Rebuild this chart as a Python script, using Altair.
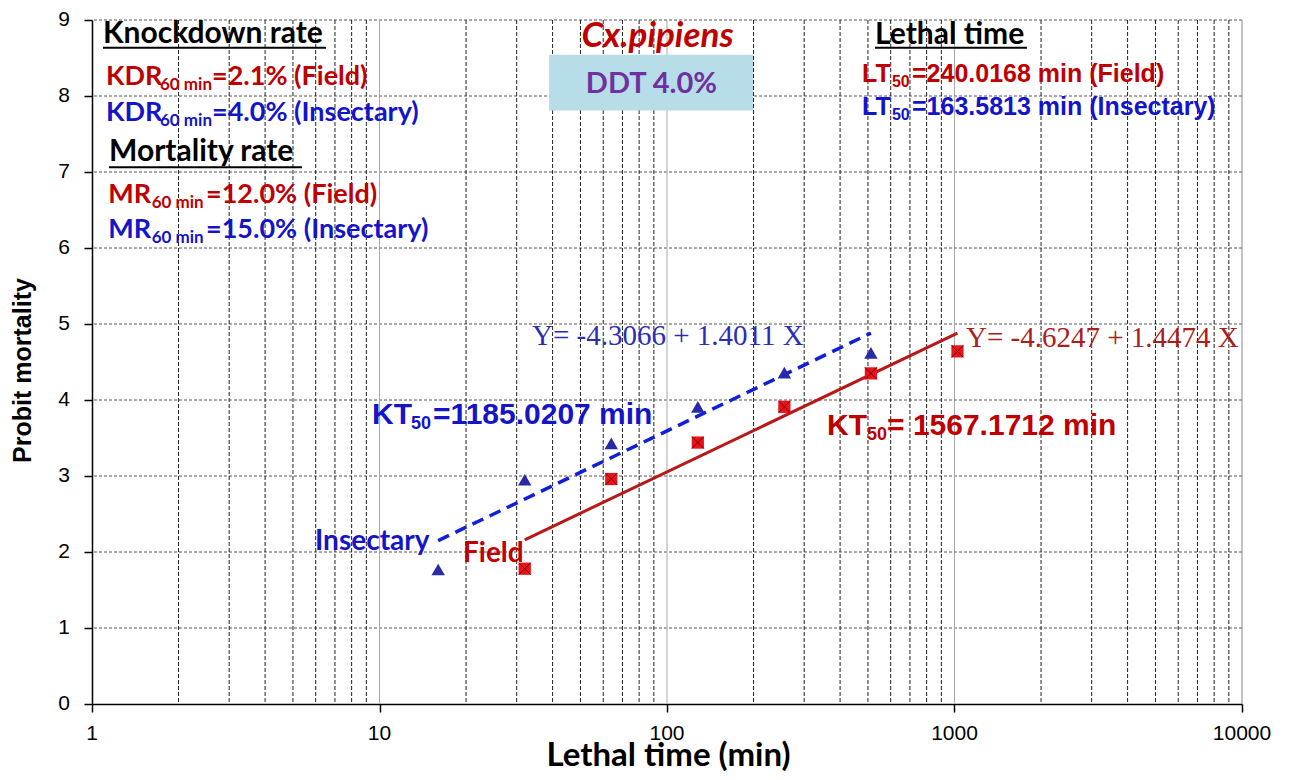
import altair as alt
import pandas as pd

# ---------------- data ----------------
time_insectary = [16, 32, 64, 128, 256, 512]
probit_insectary = [1.77, 2.95, 3.43, 3.91, 4.36, 4.62]
time_field = [32, 64, 128, 256, 512, 1024]
probit_field = [1.78, 2.96, 3.44, 3.91, 4.35, 4.64]

fit_insectary_time = [16, 512]
fit_insectary_probit = [2.15, 4.88]
fit_field_time = [32, 1024]
fit_field_probit = [2.16, 4.88]

x_tick_values = [1, 10, 100, 1000, 10000]
x_tick_labels = ["1", "10", "100", "1000", "10000"]
y_tick_values = [0, 1, 2, 3, 4, 5, 6, 7, 8, 9]
y_tick_labels = ["0", "1", "2", "3", "4", "5", "6", "7", "8", "9"]
minor_grid = [m * 10 ** d for d in range(4) for m in range(2, 10)]
major_grid = [10, 100, 1000]
h_grid = [1, 2, 3, 4, 5, 6, 7, 8, 9]

RED = "#c00000"
BLUE = "#1414c8"

# annotation texts (x, y in data units; text; colour; font size)
calibri_texts = [
    (1.092, 8.695, "Knockdown rate", "#000000", 30),
    (1.119, 8.150, "KDR", RED, 27),
    (1.724, 8.084, "60 min", RED, 17),
    (2.615, 8.150, "=2.1% (Field)", RED, 27),
    (1.119, 7.676, "KDR", BLUE, 27),
    (1.724, 7.600, "60 min", BLUE, 17),
    (2.615, 7.676, "=4.0% (Insectary)", BLUE, 27),
    (1.146, 7.142, "Mortality rate", "#000000", 30),
    (1.139, 6.593, "MR", RED, 27),
    (1.613, 6.528, "60 min", RED, 17),
    (2.492, 6.593, "=12.0% (Field)", RED, 27),
    (1.139, 6.135, "MR", BLUE, 27),
    (1.613, 6.070, "60 min", BLUE, 17),
    (2.492, 6.135, "=15.0% (Insectary)", BLUE, 27),
    (529.0, 8.686, "Lethal time", "#000000", 30),
    (5.967, 2.024, "Insectary", BLUE, 28),
    (19.51, 1.862, "Field", RED, 28),
]
arial_texts = [
    (476.9, 8.189, "LT", RED, 25),
    (606.0, 8.124, "50", RED, 16),
    (711.6, 8.189, "=240.0168 min (Field)", RED, 25),
    (476.9, 7.744, "LT", BLUE, 25),
    (606.0, 7.679, "50", BLUE, 16),
    (711.6, 7.744, "=163.5813 min (Insectary)", BLUE, 25),
    (9.417, 3.689, "KT", BLUE, 30),
    (12.87, 3.624, "50", BLUE, 18),
    (15.36, 3.689, "=1185.0207 min", BLUE, 30),
    (360.2, 3.545, "KT", RED, 30),
    (496.4, 3.480, "50", RED, 18),
    (582.5, 3.545, "= 1567.1712 min", RED, 30),
]
serif_texts = [
    (33.92, 4.726, "Y= -4.3066 + 1.4011 X", "#2c2cb4", 29),
    (1096.5, 4.691, "Y= -4.6247 + 1.4474 X", "#a82020", 29),
]
underlines = [
    (1.092, 6.515, 8.634),
    (1.146, 5.375, 7.064),
    (529.0, 1786.0, 8.634),
]
species_label = [(92.7, 8.650, "Cx.pipiens")]
box = [(38.9, 199.1, 8.542, 7.810)]
box_label = [(88.3, 8.041, "DDT 4.0%")]


def frame(rows, cols):
    return pd.DataFrame(rows, columns=cols)


LABEL_FONT = "Liberation Sans"
LABEL_SIZE = 21

xs = alt.Scale(type="log", domain=[1, 10000], nice=False)
ys = alt.Scale(domain=[0, 9], nice=False, zero=False)

X_AXIS = alt.Axis(
    values=x_tick_values,
    labels=False,
    grid=False,
    tickSize=8,
    titleX=576,
    titleY=61,
    titleAlign="center",
    titleBaseline="alphabetic",
    titleFont="Lato",
    titleFontSize=33,
    titleFontWeight="bold",
)
Y_AXIS = alt.Axis(
    values=y_tick_values,
    labels=False,
    grid=False,
    tickSize=8,
    titleX=-70,
    titleY=350,
    titleAngle=-90,
    titleAlign="center",
    titleBaseline="middle",
    titleFont="Liberation Sans",
    titleFontSize=25,
    titleFontWeight="bold",
)


def X(field="x"):
    return alt.X(f"{field}:Q", scale=xs, title="Lethal time (min)", axis=X_AXIS)


def Y(field="y"):
    return alt.Y(f"{field}:Q", scale=ys, title="Probit mortality", axis=Y_AXIS)


# ---------------- grid ----------------
hgrid = alt.Chart(pd.DataFrame({"y": h_grid})).mark_rule(
    color="#555555", strokeWidth=1, strokeDash=[3, 2]
).encode(y=Y())
vgrid_minor = alt.Chart(pd.DataFrame({"x": minor_grid})).mark_rule(
    color="#222222", strokeWidth=1, strokeDash=[4, 2]
).encode(x=X())
vgrid_major = alt.Chart(pd.DataFrame({"x": major_grid})).mark_rule(
    color="#a8a8a8", strokeWidth=1
).encode(x=X())
right_edge = alt.Chart(pd.DataFrame({"x": [10000]})).mark_rule(
    color="#888888", strokeWidth=1
).encode(x=X())

# ---------------- tick labels (through the scales) ----------------
xlab_df = pd.DataFrame({"x": x_tick_values, "y": [0] * len(x_tick_values), "t": x_tick_labels})
xlab = alt.Chart(xlab_df).mark_text(
    font=LABEL_FONT, fontSize=LABEL_SIZE, color="#000000",
    align="center", baseline="middle", dy=30
).encode(x=X(), y=Y(), text="t:N")
ylab_df = pd.DataFrame({"x": [1] * len(y_tick_values), "y": y_tick_values, "t": y_tick_labels})
ylab = alt.Chart(ylab_df).mark_text(
    font=LABEL_FONT, fontSize=LABEL_SIZE, color="#000000",
    align="right", baseline="middle", dx=-22
).encode(x=X(), y=Y(), text="t:N")

# ---------------- box ----------------
box_df = frame(box, ["x", "x2", "y", "y2"])
box_layer = alt.Chart(box_df).mark_rect(color="#b7dde8").encode(
    x=X(), x2="x2:Q", y=Y(), y2="y2:Q"
)

# ---------------- fit lines ----------------
fit_ins = alt.Chart(
    pd.DataFrame({"x": fit_insectary_time, "y": fit_insectary_probit})
).mark_line(color="#1020d8", strokeWidth=3.5, strokeDash=[12, 7]).encode(x=X(), y=Y())
fit_fld = alt.Chart(
    pd.DataFrame({"x": fit_field_time, "y": fit_field_probit})
).mark_line(color="#b81818", strokeWidth=3).encode(x=X(), y=Y())

# ---------------- points ----------------
ins_pts = alt.Chart(
    pd.DataFrame({"x": time_insectary, "y": probit_insectary})
).mark_point(shape="triangle-up", filled=True, size=180, color="#2a2aa8", opacity=1).encode(
    x=X(), y=Y()
)
fld_df = pd.DataFrame({"x": time_field, "y": probit_field})
fld_pts = alt.Chart(fld_df).mark_point(
    shape="square", filled=True, size=150, color="#e8141c", opacity=1
).encode(x=X(), y=Y())
fld_x = alt.Chart(fld_df).mark_point(
    shape="M-1,-1L1,1M-1,1L1,-1", filled=False, size=140, color="#7a0000",
    strokeWidth=1, opacity=1
).encode(x=X(), y=Y())


# ---------------- texts ----------------
def text_layer(rows, **kw):
    df = frame(rows, ["x", "y", "text", "color", "size"])
    return alt.Chart(df).mark_text(baseline="alphabetic", **kw).encode(
        x=X(),
        y=Y(),
        text="text:N",
        color=alt.Color("color:N", scale=None),
        size=alt.Size("size:Q", scale=None),
    )


calibri_layer = text_layer(calibri_texts, font="Lato", fontWeight="bold", align="left")
arial_layer = text_layer(arial_texts, font="Liberation Sans", fontWeight="bold", align="left")
serif_layer = text_layer(serif_texts, font="Liberation Serif", align="left")

ul_df = frame(underlines, ["x", "x2", "y"])
ul_layer = alt.Chart(ul_df).mark_rule(color="#000000", strokeWidth=2).encode(
    x=X(), x2="x2:Q", y=Y()
)

species_layer = alt.Chart(frame(species_label, ["x", "y", "text"])).mark_text(
    font="Lato", fontWeight="bold", fontStyle="italic", fontSize=35, color=RED,
    align="center", baseline="alphabetic"
).encode(x=X(), y=Y(), text="text:N")
box_text = alt.Chart(frame(box_label, ["x", "y", "text"])).mark_text(
    font="Lato", fontWeight="bold", fontSize=29, color="#7030a0",
    align="center", baseline="alphabetic"
).encode(x=X(), y=Y(), text="text:N")

chart = alt.layer(
    hgrid, vgrid_minor, vgrid_major, right_edge, box_layer,
    fit_ins, fit_fld, ins_pts, fld_pts, fld_x,
    ul_layer, calibri_layer, arial_layer, serif_layer, species_layer, box_text,
    xlab, ylab,
).properties(
    width=1150,
    height=684,
    autosize=alt.AutoSizeParams(type="none"),
    padding={"left": 84, "top": 12, "right": 39, "bottom": 68},
    background="white",
).configure_view(stroke=None, clip=False).configure_axis(
    domainColor="#000000",
    domainWidth=1.5,
    tickColor="#000000",
    tickWidth=1.5,
    titleColor="#000000",
)

chart.save("out.html", embed_options={"renderer": "svg", "actions": False})
